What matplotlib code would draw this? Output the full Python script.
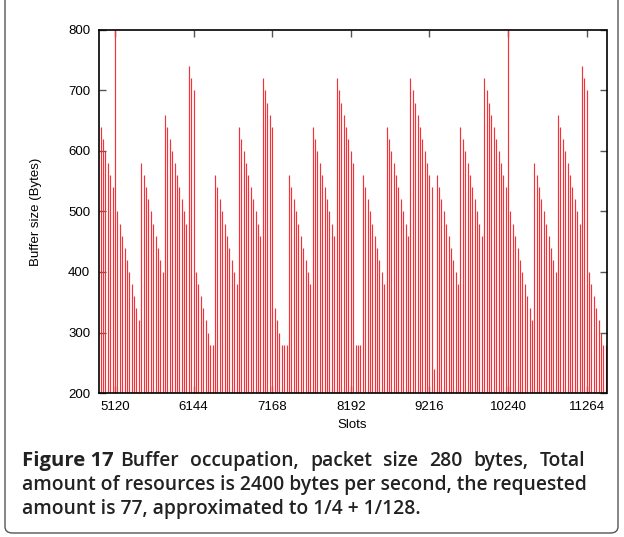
import numpy as np
import matplotlib
matplotlib.use("Agg")
import matplotlib.pyplot as plt
from matplotlib.patches import FancyBboxPatch

# ---- data ----
buffer_bytes = [
    640, 620, 600, 580, 560, 540, 800,
    500, 480, 460, 440, 420, 400, 380, 360, 340, 320,
    580, 560, 540, 520, 500, 480, 460, 440, 420, 400,
    660, 640, 620, 600, 580, 560, 540, 520, 500, 480,
    740, 720, 700,
    400, 380, 360, 340, 320, 300, 280, 280,
    560, 540, 520, 500, 480, 460, 440, 420, 400, 380,
    640, 620, 600, 580, 560, 540, 520, 500, 480, 460,
    720, 700, 680, 660, 640,
    340, 320, 300, 280, 280, 280,
    560, 540, 520, 500, 480, 460, 440, 420, 400, 380,
    640, 620, 600, 580, 560, 540, 520, 500, 480, 460,
    720, 700, 680, 660, 640, 620, 600, 580,
    280, 280, 280,
    560, 540, 520, 500, 480, 460, 440, 420, 400, 380,
    640, 620, 600, 580, 560, 540, 520, 500, 480, 460,
    720, 700, 680, 660, 640, 620, 600, 580, 560, 540,
    240,
    560, 540, 520, 500, 480, 460, 440, 420, 400, 380,
    640, 620, 600, 580, 560, 540, 520, 500, 480, 460,
    720, 700, 680, 660, 640, 620, 600, 580, 560, 540,
    800,
    500, 480, 460, 440, 420, 400, 380, 360, 340, 320,
    580, 560, 540, 520, 500, 480, 460, 440, 420, 400,
    660, 640, 620, 600, 580, 560, 540, 520, 500, 480,
    740, 720, 700,
    400, 380, 360, 340, 320, 300, 280, 280,
]
spike_index = 6          # sample that falls on slot 5120
spike_slot = 5120
slot_step = 1024 / 33    # 33 samples per 1024 slots
slots = spike_slot + (np.arange(len(buffer_bytes)) - spike_index) * slot_step

x_ticks = [5120, 6144, 7168, 8192, 9216, 10240, 11264]
y_ticks = [200, 300, 400, 500, 600, 700, 800]

caption_bold = "Figure 17"
caption_lines = [
    "Buffer occupation, packet size 280 bytes, Total",
    "amount of resources is 2400 bytes per second, the requested",
    "amount is 77, approximated to 1/4 + 1/128.",
]

# ---- figure ----
W, H, DPI = 624, 537, 100
fig = plt.figure(figsize=(W / DPI, H / DPI), dpi=DPI)
fig.patch.set_facecolor("white")

# rounded frame around the whole figure
frame = FancyBboxPatch((5 / W, 4 / H), (W - 11) / W, (H + 40) / H,
                       boxstyle="round,pad=0,rounding_size=0.012",
                       transform=fig.transFigure, fill=False,
                       edgecolor="#555555", linewidth=1.0, zorder=0)
fig.patches.append(frame)

left, right, top, bottom = 98.5, 606.5, 30, 393
ax = fig.add_axes([left / W, 1 - bottom / H, (right - left) / W, (bottom - top) / H])

ax.vlines(slots, 200, buffer_bytes, colors="#f2333a", linewidth=0.85)

ax.set_xlim(4905, 11522)
ax.set_ylim(200, 800)
ax.set_xticks(x_ticks)
ax.set_yticks(y_ticks)

tick_font = dict(family=["Liberation Sans", "DejaVu Sans"], size=9.5)
ax.set_xticklabels([str(t) for t in x_ticks], **tick_font)
ax.set_yticklabels([str(t) for t in y_ticks], **tick_font)
ax.tick_params(direction="in", length=5, width=1.0, color="#555555",
               top=True, right=True, pad=6)
for s in ax.spines.values():
    s.set_linewidth(1.2)
    s.set_color("black")

ax.set_xlabel("Slots", fontsize=9.5, family=["Liberation Sans", "DejaVu Sans"], labelpad=4)
ax.set_ylabel("Buffer size (Bytes)", fontsize=9.5, family=["Liberation Sans", "DejaVu Sans"],
              labelpad=19)

# caption
cap_font = ["Open Sans", "DejaVu Sans"]
cap_size = 13.9
cap_color = "#222222"
x0 = 22 / W
ys = [461 / H, 485 / H, 509 / H]
fig.canvas.draw()
renderer = fig.canvas.get_renderer()
tb = fig.text(x0, 1 - ys[0], caption_bold, fontsize=14.6, family=cap_font,
              fontweight="bold", va="center", ha="left", color=cap_color)
bb = tb.get_window_extent(renderer=renderer)

# first line is justified: spread its words toward the right margin
words = caption_lines[0].split(" ")
word_texts = []
widths = []
for w in words:
    t = fig.text(0, 1 - ys[0], w, fontsize=cap_size, family=cap_font,
                 fontweight="semibold", va="center", ha="left", color=cap_color)
    widths.append(t.get_window_extent(renderer=renderer).width)
    word_texts.append(t)
start = bb.x1 + 7
end = 585.0
gap = (end - start - sum(widths)) / (len(words) - 1)
cur = start
for t, wdt in zip(word_texts, widths):
    t.set_x(cur / W)
    cur += wdt + gap

for line, y in zip(caption_lines[1:], ys[1:]):
    fig.text(x0, 1 - y, line, fontsize=cap_size, family=cap_font,
             fontweight="semibold", va="center", ha="left", color=cap_color)

fig.savefig("out.png", dpi=DPI, facecolor="white")
